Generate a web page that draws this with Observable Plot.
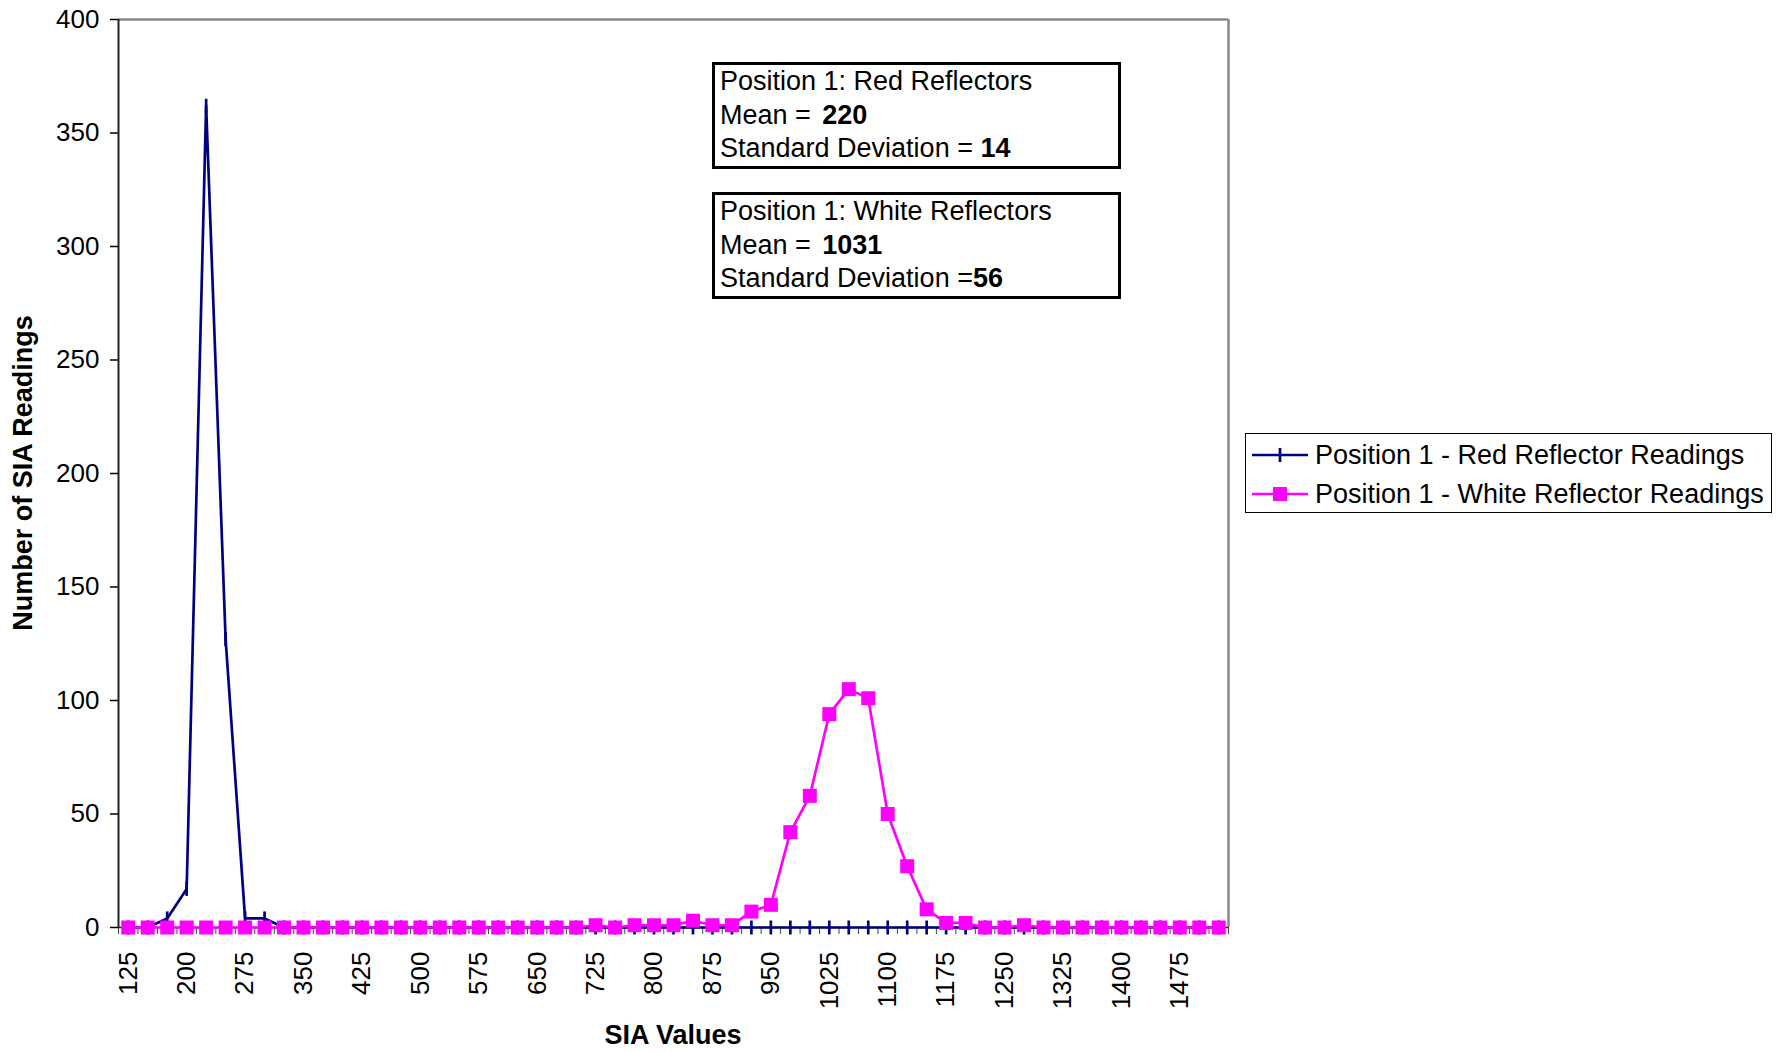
<!DOCTYPE html>
<html>
<head>
<meta charset="utf-8">
<script src="https://cdn.jsdelivr.net/npm/d3@7"></script>
<script src="https://cdn.jsdelivr.net/npm/@observablehq/plot@0.6"></script>
<style>
  html, body { margin: 0; padding: 0; background: #fff; }
  #wrap { position: relative; width: 1779px; height: 1052px; font-family: "Liberation Sans", Arial, sans-serif; color: #000; }
  #wrap svg { position: absolute; left: 0; top: 0; display: block; }
  .box { position: absolute; box-sizing: border-box; border: 3px solid #000; background: #fff;
         font-size: 27px; padding: 0 0 0 5px; }
  .box .ln { height: 33.5px; line-height: 33.5px; white-space: pre; }
  .box b { font-weight: bold; }
  .box b.m { margin-left: 4px; }
  .legend { position: absolute; left: 1245px; top: 433px; width: 527px; height: 80px; box-sizing: border-box;
            border: 1.5px solid #000; background: #fff; font-size: 27px; }
  .legend .row { position: absolute; left: 6px; height: 36px; display: flex; align-items: center; white-space: nowrap; }
  .legend svg { position: static !important; margin-right: 7px; }
  .ttl { position: absolute; font-size: 27px; font-weight: bold; white-space: nowrap; }
</style>
</head>
<body>
<div id="wrap"></div>
<script>
// ---- data ----
const categories = [125,150,175,200,225,250,275,300,325,350,375,400,425,450,475,500,525,550,575,600,
  625,650,675,700,725,750,775,800,825,850,875,900,925,950,975,1000,1025,1050,1075,1100,
  1125,1150,1175,1200,1225,1250,1275,1300,1325,1350,1375,1400,1425,1450,1475,1500,1525];
const redReadings = [0,0,4,17,362,127,4,4,0,0,0,0,0,0,0,0,0,0,0,0,
  0,0,0,0,0,0,0,0,0,0,0,0,0,0,0,0,0,0,0,0,
  0,0,0,0,0,0,0,0,0,0,0,0,0,0,0,0,0];
const whiteReadings = [0,0,0,0,0,0,0,0,0,0,0,0,0,0,0,0,0,0,0,0,
  0,0,0,0,1,0,1,1,1,3,1,1,7,10,42,58,94,105,101,50,
  27,8,2,2,0,0,1,0,0,0,0,0,0,0,0,0,0];
const tickLabels = [125,200,275,350,425,500,575,650,725,800,875,950,1025,1100,1175,1250,1325,1400,1475];
const yTicks = [0,50,100,150,200,250,300,350,400];
const seriesNames = ["Position 1 - Red Reflector Readings", "Position 1 - White Reflector Readings"];

const rows = categories.map((c, i) => ({i, c, red: redReadings[i], white: whiteReadings[i]}));
const labelIdx = tickLabels.map(v => categories.indexOf(v));
const boundaries = d3.range(categories.length + 1).map(k => k - 0.5);

const NAVY = "#000080", PINK = "#FF00FF";
const vtick = { draw(ctx, size) { const r = Math.sqrt(size / Math.PI); ctx.moveTo(0, -r); ctx.lineTo(0, r); } };

const chart = Plot.plot({
  width: 1779, height: 1052,
  marginLeft: 118, marginRight: 551, marginTop: 19, marginBottom: 125,
  style: { fontFamily: "'Liberation Sans', Arial, sans-serif", fontSize: "26px", color: "#000", background: "transparent" },
  x: { domain: [-0.5, categories.length - 0.5], axis: null },
  y: { domain: [0, 400], axis: null },
  marks: [
    Plot.axisY({ ticks: yTicks, tickSize: 8, tickPadding: 11, tickFormat: d => String(d), label: null, stroke: "#000", strokeWidth: 1.5 }),
    Plot.axisX({ ticks: boundaries, tickSize: 7, tickFormat: () => "", label: null, stroke: "#444" }),
    Plot.axisX({ ticks: labelIdx, tickSize: 0, tickPadding: 24, tickRotate: -90, tickFormat: i => String(categories[i]), label: null }),
    Plot.ruleY([400], { stroke: "#888", strokeWidth: 2.5 }),
    Plot.ruleX([categories.length - 0.5], { stroke: "#888", strokeWidth: 2.5 }),
    Plot.ruleX([-0.5], { stroke: "#222", strokeWidth: 2 }),
    Plot.ruleY([0], { stroke: "#222", strokeWidth: 1.5 }),
    Plot.line(rows, { x: "i", y: "red", stroke: NAVY, strokeWidth: 2.7 }),
    Plot.dot(rows, { x: "i", y: "red", symbol: vtick, r: 7, stroke: NAVY, strokeWidth: 2.7, fill: "none" }),
    Plot.line(rows, { x: "i", y: "white", stroke: PINK, strokeWidth: 2.7 }),
    Plot.dot(rows, { x: "i", y: "white", symbol: "square", r: 7.9, fill: PINK, stroke: "none" })
  ]
});

const wrap = document.getElementById("wrap");
wrap.appendChild(chart);

// annotation boxes
function box(top, lines) {
  const d = document.createElement("div");
  d.className = "box";
  d.style.left = "712px"; d.style.top = top + "px"; d.style.width = "409px"; d.style.height = "107px";
  d.innerHTML = lines.map(l => `<div class="ln">${l}</div>`).join("");
  wrap.appendChild(d);
}
box(62, ["<span>Position 1: Red Reflectors</span>", "<span>Mean = </span><b class=\"m\">220</b>", "<span>Standard Deviation = </span><b>14</b>"]);
box(192, ["<span>Position 1: White Reflectors</span>", "<span>Mean = </span><b class=\"m\">1031</b>", "<span>Standard Deviation =</span><b>56</b>"]);

// legend
const lg = document.createElement("div");
lg.className = "legend";
const sw1 = `<svg width="56" height="20"><line x1="0" y1="10" x2="56" y2="10" stroke="${NAVY}" stroke-width="2.7"/><line x1="28" y1="3" x2="28" y2="17" stroke="${NAVY}" stroke-width="2.7"/></svg>`;
const sw2 = `<svg width="56" height="20"><line x1="0" y1="10" x2="56" y2="10" stroke="${PINK}" stroke-width="2.7"/><rect x="21" y="3" width="14" height="14" fill="${PINK}"/></svg>`;
lg.innerHTML = `<div class="row" style="top:3px">${sw1}<span>${seriesNames[0]}</span></div>` +
               `<div class="row" style="top:42px">${sw2}<span>${seriesNames[1]}</span></div>`;
wrap.appendChild(lg);

// axis titles
const xt = document.createElement("div");
xt.className = "ttl"; xt.textContent = "SIA Values";
xt.style.left = "673px"; xt.style.top = "1035px"; xt.style.transform = "translate(-50%, -50%)";
wrap.appendChild(xt);
const yt = document.createElement("div");
yt.className = "ttl"; yt.textContent = "Number of SIA Readings";
yt.style.left = "23px"; yt.style.top = "473px"; yt.style.transform = "translate(-50%, -50%) rotate(-90deg)";
wrap.appendChild(yt);
</script>
</body>
</html>
